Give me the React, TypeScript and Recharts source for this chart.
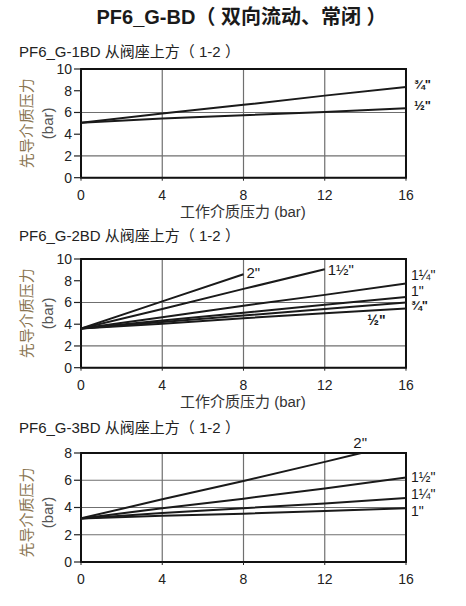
import {
  CartesianGrid,
  Line,
  LineChart,
  ReferenceArea,
  ReferenceDot,
  XAxis,
  YAxis,
} from "recharts";

const FONT = "'Liberation Sans', Arial, 'Noto Sans CJK SC', sans-serif";

const mainTitle = "PF6_G-BD（ 双向流动、常闭 ）";
const xLabel = "工作介质压力 (bar)";
const yLabelCn = "先导介质压力";
const yLabelUnit = "(bar)";

const xTicks = [0, 4, 8, 12, 16];
const ticksTo10 = [0, 2, 4, 6, 8, 10];
const ticksTo8 = [0, 2, 4, 6, 8];

// PF6_G-1BD
const g1X = [0, 4, 8, 12, 16];
const g1ThreeQuarter = [5.05, 5.9, 6.7, 7.55, 8.35];
const g1Half = [5.05, 5.45, 5.75, 6.05, 6.4];

// PF6_G-2BD
const g2XTwo = [0, 4, 8];
const g2Two = [3.6, 6.1, 8.6];
const g2XOneHalf = [0, 4, 8, 12];
const g2OneHalf = [3.6, 5.4, 7.25, 9.05];
const g2X = [0, 4, 8, 12, 16];
const g2OneQuarter = [3.6, 4.65, 5.7, 6.7, 7.75];
const g2One = [3.6, 4.35, 5.05, 5.8, 6.5];
const g2ThreeQuarter = [3.6, 4.2, 4.8, 5.4, 6.0];
const g2Half = [3.6, 4.05, 4.55, 5.0, 5.45];

// PF6_G-3BD
const g3XTwo = [0, 4, 8, 12, 13.8];
const g3Two = [3.2, 4.6, 5.95, 7.35, 8];
const g3X = [0, 4, 8, 12, 16];
const g3OneHalf = [3.2, 3.95, 4.65, 5.4, 6.2];
const g3OneQuarter = [3.2, 3.6, 3.95, 4.3, 4.7];
const g3One = [3.2, 3.4, 3.55, 3.75, 3.95];

type Series = {
  label: string;
  xs: number[];
  ys: number[];
  dx: number;
  dy: number;
  size: number;
  bold?: boolean;
  noEndLabel?: boolean;
};

type PanelProps = {
  top: number;
  plotHeight: number;
  yMax: number;
  yTicks: number[];
  series: Series[];
  showXLabel: boolean;
  yLabelShift?: number;
  innerNote?: { x: number; y: number; text: string };
};

const endLabel = (s: Series) => (p: any) => {
  if (p.index !== s.xs.length - 1) return <g />;
  return (
    <text
      x={p.x + s.dx}
      y={p.y + s.dy}
      dominantBaseline="central"
      fontSize={s.size}
      fontWeight={s.bold ? 700 : 400}
      fontFamily={FONT}
      fill="#1a1a1a"
    >
      {s.label}
    </text>
  );
};

function Panel({ top, plotHeight, yMax, yTicks, series, showXLabel, yLabelShift = 0, innerNote }: PanelProps) {
  const marginTop = 20;
  const marginBottom = 30;
  const height = marginTop + plotHeight + 30 + marginBottom;
  return (
    <div style={{ position: "absolute", left: 0, top }}>
      <LineChart
        width={466}
        height={height}
        margin={{ top: marginTop, right: 60, bottom: marginBottom, left: 51 }}
      >
        <CartesianGrid stroke="#6f6f6f" strokeWidth={1.2} />
        <XAxis
          type="number"
          dataKey="x"
          domain={[0, 16]}
          ticks={xTicks}
          allowDataOverflow
          height={30}
          axisLine={false}
          tickSize={3}
          tickMargin={9}
          tickLine={{ stroke: "#222" }}
          tick={{ fill: "#222", fontSize: 14, fontFamily: FONT }}
          label={
            showXLabel
              ? {
                  content: (p: any) => (
                    <text
                      x={243}
                      y={p.viewBox.y + 34}
                      textAnchor="middle"
                      dominantBaseline="central"
                      fontSize={15}
                      fontFamily={FONT}
                      fill="#333"
                    >
                      {xLabel}
                    </text>
                  ),
                }
              : undefined
          }
        />
        <YAxis
          type="number"
          domain={[0, yMax]}
          ticks={yTicks}
          allowDataOverflow
          width={30}
          axisLine={false}
          tickSize={7}
          tickMargin={2}
          tickLine={{ stroke: "#222", strokeWidth: 1.2 }}
          tick={{ fill: "#222", fontSize: 14, fontFamily: FONT }}
          label={{
            content: (p: any) => {
              const cy = p.viewBox.y + p.viewBox.height / 2 + yLabelShift;
              return (
                <g fontFamily={FONT} fontSize={15}>
                  <text
                    x={26}
                    y={cy}
                    transform={`rotate(-90, 26, ${cy})`}
                    textAnchor="middle"
                    dominantBaseline="central"
                    fill="#8a7552"
                  >
                    {yLabelCn}
                  </text>
                  <text
                    x={47}
                    y={cy}
                    transform={`rotate(-90, 47, ${cy})`}
                    textAnchor="middle"
                    dominantBaseline="central"
                    fill="#555"
                  >
                    {yLabelUnit}
                  </text>
                </g>
              );
            },
          }}
        />
        {series.map((s) => (
          <Line
            key={s.label}
            data={s.xs.map((x, i) => ({ x, y: s.ys[i] }))}
            dataKey="y"
            stroke="#1a1a1a"
            strokeWidth={2}
            dot={false}
            activeDot={false}
            isAnimationActive={false}
            label={s.noEndLabel ? false : endLabel(s)}
          />
        ))}
        {innerNote && (
          <ReferenceDot
            x={innerNote.x}
            y={innerNote.y}
            r={0}
            ifOverflow="visible"
            shape={(p: any) => (
              <g>
                <rect x={p.cx - 12} y={p.cy - 3} width={24} height={6} fill="#fff" />
                <text
                  x={p.cx}
                  y={p.cy - 4}
                  textAnchor="middle"
                  dominantBaseline="central"
                  fontSize={14}
                  fontWeight={700}
                  fontFamily={FONT}
                  fill="#1a1a1a"
                >
                  {innerNote.text}
                </text>
              </g>
            )}
          />
        )}
        <ReferenceArea x1={0} x2={16} y1={0} y2={yMax} fill="none" stroke="#111" strokeWidth={2} />
      </LineChart>
    </div>
  );
}

const panel1: Series[] = [
  { label: "¾\"", xs: g1X, ys: g1ThreeQuarter, dx: 8, dy: -2, size: 13, bold: true },
  { label: "½\"", xs: g1X, ys: g1Half, dx: 8, dy: -3, size: 13, bold: true },
];

const panel2: Series[] = [
  { label: "2\"", xs: g2XTwo, ys: g2Two, dx: 3, dy: -2, size: 15 },
  { label: "1½\"", xs: g2XOneHalf, ys: g2OneHalf, dx: 3, dy: 0, size: 15 },
  { label: "1¼\"", xs: g2X, ys: g2OneQuarter, dx: 5, dy: -8, size: 14 },
  { label: "1\"", xs: g2X, ys: g2One, dx: 5, dy: -6, size: 14 },
  { label: "¾\"", xs: g2X, ys: g2ThreeQuarter, dx: 5, dy: 3, size: 13, bold: true },
  { label: "½\"", xs: g2X, ys: g2Half, dx: 0, dy: 0, size: 13, noEndLabel: true },
];

const panel3: Series[] = [
  { label: "2\"", xs: g3XTwo, ys: g3Two, dx: -8, dy: -11, size: 15 },
  { label: "1½\"", xs: g3X, ys: g3OneHalf, dx: 5, dy: -1, size: 14 },
  { label: "1¼\"", xs: g3X, ys: g3OneQuarter, dx: 5, dy: -4, size: 14 },
  { label: "1\"", xs: g3X, ys: g3One, dx: 5, dy: 3, size: 14 },
];

const chartTitles = [
  { text: "PF6_G-1BD 从阀座上方（ 1-2 ）", y: 51.7 },
  { text: "PF6_G-2BD 从阀座上方（ 1-2 ）", y: 235 },
  { text: "PF6_G-3BD 从阀座上方（ 1-2 ）", y: 427 },
];

export default function App() {
  return (
    <div
      style={{
        position: "absolute",
        left: 0,
        top: 0,
        width: 466,
        height: 606,
        background: "#fff",
        overflow: "hidden",
      }}
    >
      <Panel top={49} plotHeight={108.7} yMax={10} yTicks={ticksTo10} series={panel1} showXLabel />
      <Panel
        top={239}
        plotHeight={108.7}
        yMax={10}
        yTicks={ticksTo10}
        series={panel2}
        showXLabel
        innerNote={{ x: 14.55, y: 4, text: "½\"" }}
      />
      <Panel
        top={432.7}
        plotHeight={109}
        yMax={8}
        yTicks={ticksTo8}
        series={panel3}
        showXLabel={false}
        yLabelShift={5}
      />
      <svg
        width={466}
        height={606}
        style={{ position: "absolute", left: 0, top: 0, pointerEvents: "none" }}
      >
        <text
          x={241.5}
          y={17}
          textAnchor="middle"
          dominantBaseline="central"
          fontSize={20}
          fontWeight={700}
          fontFamily={FONT}
          fill="#1a1a1a"
        >
          {mainTitle}
        </text>
        {chartTitles.map((t) => (
          <text
            key={t.text}
            x={19}
            y={t.y}
            dominantBaseline="central"
            fontSize={15}
            fontFamily={FONT}
            fill="#222"
          >
            {t.text}
          </text>
        ))}
      </svg>
    </div>
  );
}
